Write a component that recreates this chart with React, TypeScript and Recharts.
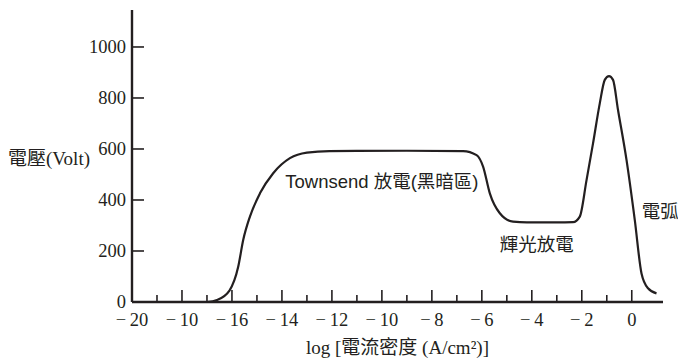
import { LineChart, Line, XAxis, YAxis, ReferenceDot, Label } from "recharts";

// log current density (A/cm2) and voltage (V)
const logJ = [
  -17.0, -16.6, -16.1, -15.75, -15.55, -15.28, -14.88, -14.35, -13.68, -13.0, -12.1, -9.0,
  -6.75, -6.21, -5.95, -5.68, -5.28, -4.75, -4.2, -3.0, -2.35, -2.08, -1.81, -1.55, -1.28,
  -1.08, -0.91, -0.75, -0.55, -0.21, 0.12, 0.39, 0.65, 0.99,
];
const volts = [
  0, 8, 45, 138, 243, 335, 426, 505, 564, 586, 592, 593,
  592, 576, 531, 426, 348, 315, 312, 312, 313, 335, 478, 622, 779,
  871, 886, 871, 753, 557, 322, 112, 54, 34,
];

const xTicks = [-20, -19, -18, -17, -16, -15, -14, -13, -12, -11, -10, -9, -8, -7, -6, -5, -4, -3, -2, -1, 0];
// labels as printed in the figure (the second one really reads −10)
const xTickLabels: Record<number, string> = {
  [-20]: "−\u200920",
  [-18]: "−\u200910",
  [-16]: "−\u200916",
  [-14]: "−\u200914",
  [-12]: "−\u200912",
  [-10]: "−\u200910",
  [-8]: "−\u20098",
  [-6]: "−\u20096",
  [-4]: "−\u20094",
  [-2]: "−\u20092",
  [0]: "0",
};
const yTicks = [0, 200, 400, 600, 800, 1000];

const data = logJ.map((x, i) => ({ x, v: volts[i] }));

const INK = "#231f20";
const SERIF = "Liberation Serif, Noto Sans CJK TC, serif";
const SANS = "Liberation Sans, Noto Sans CJK TC, sans-serif";
const tickStyle = { fontFamily: SERIF, fontSize: 18.5 };
const titleStyle = { fontFamily: SERIF, fontSize: 19 };
const noteStyle = { fontFamily: SANS, fontSize: 18.5 };

const XTick = (props: any) => {
  const { x, y, payload } = props;
  const even = payload.value % 2 === 0;
  const label = xTickLabels[payload.value];
  return (
    <g>
      {payload.value !== -20 && (
        <line x1={x} x2={x} y1={y} y2={y - (even ? 12 : 7)} stroke={INK} strokeWidth={1.6} />
      )}
      {label && (
        <text x={x} y={y + 24} textAnchor="middle" style={tickStyle} fill={INK}>
          {label}
        </text>
      )}
    </g>
  );
};

const YTick = (props: any) => {
  const { x, y, payload } = props;
  return (
    <g>
      {payload.value !== 0 && <line x1={x} x2={x + 12} y1={y} y2={y} stroke={INK} strokeWidth={1.6} />}
      <text x={x - 6} y={y + 6} textAnchor="end" style={tickStyle} fill={INK}>
        {payload.value}
      </text>
    </g>
  );
};

const note = (text: string, anchor: "start" | "middle" | "end") => (props: any) => {
  const vb = props.viewBox;
  const cx = vb.x + vb.width / 2;
  const cy = vb.y + vb.height / 2;
  return (
    <text x={cx} y={cy + 6} textAnchor={anchor} style={noteStyle} fill={INK}>
      {text}
    </text>
  );
};

export default function App() {
  return (
    <div style={{ position: "absolute", left: 0, top: 0, width: 678, height: 361, background: "#fff" }}>
      <LineChart width={678} height={361} data={data} margin={{ top: 10, right: 15, bottom: 29, left: 72 }}>
        <XAxis
          dataKey="x"
          type="number"
          domain={[-20, 1.25]}
          ticks={xTicks}
          interval={0}
          height={30}
          tickSize={0}
          tickMargin={0}
          tickLine={false}
          tick={<XTick />}
          axisLine={{ stroke: INK, strokeWidth: 2.4 }}
        >
          <Label
            content={(p: any) => (
              <text
                x={p.viewBox.x + p.viewBox.width / 2}
                y={p.viewBox.y + 52}
                textAnchor="middle"
                style={titleStyle}
                fill={INK}
              >
                log [電流密度 (A/cm²)]
              </text>
            )}
          />
        </XAxis>
        <YAxis
          type="number"
          domain={[0, 1145]}
          ticks={yTicks}
          interval={0}
          width={60}
          tickSize={0}
          tickMargin={0}
          tickLine={false}
          tick={<YTick />}
          axisLine={{ stroke: INK, strokeWidth: 2.4 }}
        >
          <Label
            content={(p: any) => (
              <text x={p.viewBox.x + 18} y={165} textAnchor="end" style={titleStyle} fill={INK}>
                電壓(Volt)
              </text>
            )}
          />
        </YAxis>
        <Line
          type="monotone"
          dataKey="v"
          stroke={INK}
          strokeWidth={2.2}
          dot={false}
          activeDot={false}
          isAnimationActive={false}
        />
        <ReferenceDot x={-10} y={470} r={0} stroke="none" label={{ content: note("Townsend 放電(黑暗區)", "middle") }} />
        <ReferenceDot x={-3.8} y={224} r={0} stroke="none" label={{ content: note("輝光放電", "middle") }} />
        <ReferenceDot x={0.4} y={353} r={0} stroke="none" label={{ content: note("電弧", "start") }} />
      </LineChart>
    </div>
  );
}
